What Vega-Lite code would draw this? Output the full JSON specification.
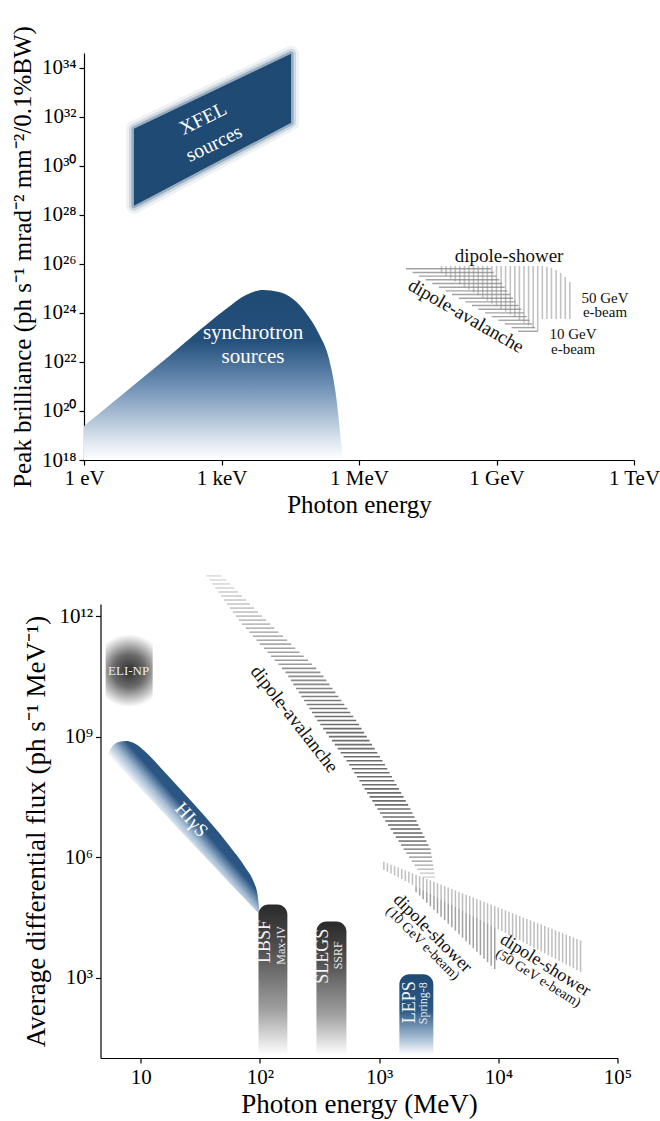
{
"$schema": "https://vega.github.io/schema/vega-lite/v6.json",
"background": "white",
"padding": {"left": 10, "top": 25, "right": 5, "bottom": 5},
"bounds": "flush",
"center": true,
"spacing": 144,
"config": {
  "font": "Liberation Serif",
  "view": {"stroke": null},
  "axis": {"grid": false, "domainColor": "#000", "tickColor": "#000", "labelColor": "#000", "titleColor": "#000", "labelFont": "Liberation Serif", "titleFont": "Liberation Serif", "labelFontSize": 21, "titleFontSize": 25, "titleFontWeight": "normal", "tickSize": 5, "domainWidth": 1.2, "tickWidth": 1.2, "labelFlush": false, "labelOverlap": false},
  "text": {"font": "Liberation Serif", "align": "center", "baseline": "middle"}
},
"datasets": {
  "xfel": [{"E": 12.3, "B": 3.24e31, "B2": 2.33e28}, {"E": 32900, "B": 3.72e34, "B2": 5.69e31}],
  "sync": [
    {"E": 1, "B": 2.44e19}, {"E": 12.3, "B": 1.15e21}, {"E": 68.1, "B": 1.6e22}, {"E": 357, "B": 2.22e23},
    {"E": 1253, "B": 1.46e24}, {"E": 3428, "B": 5.43e24}, {"E": 8054, "B": 8.69e24}, {"E": 18000, "B": 7.19e24},
    {"E": 36300, "B": 3.72e24}, {"E": 69800, "B": 1.0e24}, {"E": 134000, "B": 1.39e23}, {"E": 222000, "B": 1.32e22},
    {"E": 316000, "B": 4.09e20}, {"E": 405000, "B": 5.97e18}, {"E": 448000, "B": 1e18}
  ],
  "topAval": [
    {"B": 6.31e25, "E": 1.06e7, "E2": 7.60e8}, {"B": 4.47e25, "E": 1.47e7, "E2": 8.71e8},
    {"B": 3.16e25, "E": 2.04e7, "E2": 9.98e8}, {"B": 2.24e25, "E": 2.84e7, "E2": 1.15e9},
    {"B": 1.58e25, "E": 3.96e7, "E2": 1.32e9}, {"B": 1.12e25, "E": 5.55e7, "E2": 1.51e9},
    {"B": 7.94e24, "E": 7.69e7, "E2": 1.74e9}, {"B": 5.62e24, "E": 1.07e8, "E2": 2.0e9},
    {"B": 3.98e24, "E": 1.50e8, "E2": 2.30e9}, {"B": 2.82e24, "E": 2.09e8, "E2": 2.64e9},
    {"B": 2.0e24, "E": 2.91e8, "E2": 3.03e9}, {"B": 1.41e24, "E": 4.04e8, "E2": 3.47e9},
    {"B": 1e24, "E": 5.65e8, "E2": 3.99e9}, {"B": 7.08e23, "E": 7.87e8, "E2": 4.59e9},
    {"B": 5.01e23, "E": 1.10e9, "E2": 5.26e9}, {"B": 3.55e23, "E": 1.52e9, "E2": 6.04e9},
    {"B": 2.51e23, "E": 2.13e9, "E2": 6.93e9}, {"B": 1.78e23, "E": 2.96e9, "E2": 7.98e9}
  ],
  "topShower": [
    {"E": 6.31e7, "B": 8.28e25, "B2": 4.17e25}, {"E": 7.94e7, "B": 8.28e25, "B2": 3.21e25},
    {"E": 1e8, "B": 8.28e25, "B2": 2.49e25}, {"E": 1.26e8, "B": 8.28e25, "B2": 1.93e25},
    {"E": 1.58e8, "B": 8.28e25, "B2": 1.48e25}, {"E": 2.0e8, "B": 8.28e25, "B2": 1.15e25},
    {"E": 2.51e8, "B": 8.28e25, "B2": 8.85e24}, {"E": 3.16e8, "B": 8.28e25, "B2": 6.81e24},
    {"E": 3.98e8, "B": 8.28e25, "B2": 5.27e24}, {"E": 5.01e8, "B": 8.28e25, "B2": 4.09e24},
    {"E": 6.31e8, "B": 8.28e25, "B2": 3.15e24}, {"E": 7.94e8, "B": 8.28e25, "B2": 2.44e24},
    {"E": 1e9, "B": 8.28e25, "B2": 1.88e24}, {"E": 1.26e9, "B": 8.28e25, "B2": 1.44e24},
    {"E": 1.58e9, "B": 8.28e25, "B2": 1.12e24}, {"E": 2e9, "B": 8.28e25, "B2": 8.69e23},
    {"E": 2.51e9, "B": 8.28e25, "B2": 6.67e23}, {"E": 3.16e9, "B": 8.28e25, "B2": 5.18e23},
    {"E": 3.98e9, "B": 8.28e25, "B2": 3.98e23}, {"E": 5.01e9, "B": 8.28e25, "B2": 3.06e23},
    {"E": 6.31e9, "B": 8.28e25, "B2": 2.38e23}, {"E": 7.94e9, "B": 8.28e25, "B2": 1.84e23},
    {"E": 1e10, "B": 8.28e25, "B2": 5.69e23}, {"E": 1.26e10, "B": 7.55e25, "B2": 5.69e23},
    {"E": 1.58e10, "B": 6.87e25, "B2": 5.69e23}, {"E": 2e10, "B": 5.69e25, "B2": 5.69e23},
    {"E": 2.51e10, "B": 4.30e25, "B2": 5.69e23}, {"E": 3.16e10, "B": 2.94e25, "B2": 5.69e23},
    {"E": 3.98e10, "B": 1.84e25, "B2": 5.69e23}
  ],
  "botAval": [
    {"F": 1e13, "E": 35.5, "E2": 47.9}, {"F": 7.94e12, "E": 37.7, "E2": 51.9}, {"F": 6.31e12, "E": 39.9, "E2": 56.1},
    {"F": 5.01e12, "E": 42.2, "E2": 60.7}, {"F": 3.98e12, "E": 44.7, "E2": 65.5}, {"F": 3.16e12, "E": 47.3, "E2": 70.8},
    {"F": 2.51e12, "E": 50.0, "E2": 76.6}, {"F": 2.0e12, "E": 53.0, "E2": 82.6}, {"F": 1.58e12, "E": 56.1, "E2": 89.3},
    {"F": 1.26e12, "E": 59.4, "E2": 96.4}, {"F": 1e12, "E": 62.8, "E2": 104}, {"F": 7.94e11, "E": 66.5, "E2": 113},
    {"F": 6.31e11, "E": 70.8, "E2": 122}, {"F": 5.01e11, "E": 76.0, "E2": 132}, {"F": 3.98e11, "E": 81.5, "E2": 143},
    {"F": 3.16e11, "E": 87.3, "E2": 156}, {"F": 2.51e11, "E": 93.8, "E2": 169}, {"F": 2.0e11, "E": 100, "E2": 183},
    {"F": 1.58e11, "E": 108, "E2": 198}, {"F": 1.26e11, "E": 116, "E2": 215}, {"F": 1e11, "E": 124, "E2": 233},
    {"F": 7.94e10, "E": 133, "E2": 253}, {"F": 6.31e10, "E": 143, "E2": 274}, {"F": 5.01e10, "E": 153, "E2": 297},
    {"F": 3.98e10, "E": 164, "E2": 322}, {"F": 3.16e10, "E": 173, "E2": 341}, {"F": 2.51e10, "E": 182, "E2": 361},
    {"F": 2.0e10, "E": 191, "E2": 383}, {"F": 1.58e10, "E": 201, "E2": 406}, {"F": 1.26e10, "E": 212, "E2": 430},
    {"F": 1e10, "E": 223, "E2": 455}, {"F": 7.94e9, "E": 235, "E2": 482}, {"F": 6.31e9, "E": 247, "E2": 511},
    {"F": 5.01e9, "E": 260, "E2": 541}, {"F": 3.98e9, "E": 274, "E2": 573}, {"F": 3.16e9, "E": 288, "E2": 607},
    {"F": 2.51e9, "E": 303, "E2": 643}, {"F": 2.0e9, "E": 321, "E2": 678}, {"F": 1.58e9, "E": 339, "E2": 713},
    {"F": 1.26e9, "E": 359, "E2": 750}, {"F": 1e9, "E": 379, "E2": 789}, {"F": 7.94e8, "E": 402, "E2": 830},
    {"F": 6.31e8, "E": 425, "E2": 873}, {"F": 5.01e8, "E": 450, "E2": 918}, {"F": 3.98e8, "E": 476, "E2": 966},
    {"F": 3.16e8, "E": 504, "E2": 1016}, {"F": 2.51e8, "E": 533, "E2": 1069}, {"F": 2.0e8, "E": 561, "E2": 1122},
    {"F": 1.58e8, "E": 590, "E2": 1172}, {"F": 1.26e8, "E": 619, "E2": 1225}, {"F": 1e8, "E": 652, "E2": 1282},
    {"F": 7.94e7, "E": 684, "E2": 1340}, {"F": 6.31e7, "E": 719, "E2": 1403}, {"F": 5.01e7, "E": 755, "E2": 1466},
    {"F": 3.98e7, "E": 794, "E2": 1531}, {"F": 3.16e7, "E": 834, "E2": 1603}, {"F": 2.51e7, "E": 877, "E2": 1675},
    {"F": 2.0e7, "E": 920, "E2": 1754}, {"F": 1.58e7, "E": 968, "E2": 1832}, {"F": 1.26e7, "E": 1019, "E2": 1905},
    {"F": 1e7, "E": 1072, "E2": 1982}, {"F": 7.94e6, "E": 1127, "E2": 2061}, {"F": 6.31e6, "E": 1186, "E2": 2138},
    {"F": 5.01e6, "E": 1247, "E2": 2223}, {"F": 3.98e6, "E": 1312, "E2": 2312}, {"F": 3.16e6, "E": 1380, "E2": 2404},
    {"F": 2.51e6, "E": 1452, "E2": 2500}, {"F": 2.0e6, "E": 1528, "E2": 2600}, {"F": 1.58e6, "E": 1607, "E2": 2698},
    {"F": 1.26e6, "E": 1694, "E2": 2729}, {"F": 1e6, "E": 1786, "E2": 2767}, {"F": 7.94e5, "E": 1879, "E2": 2805},
    {"F": 6.31e5, "E": 1982, "E2": 2838}, {"F": 5.01e5, "E": 2089, "E2": 2877}, {"F": 3.98e5, "E": 2198, "E2": 2917},
    {"F": 3.16e5, "E": 2317, "E2": 2951}
  ],
  "shower50": [
    {"E": 1096, "F": 7.64e5, "F2": 4.83e5}, {"E": 1175, "F": 7.05e5, "F2": 4.35e5}, {"E": 1259, "F": 6.49e5, "F2": 3.91e5},
    {"E": 1349, "F": 5.98e5, "F2": 3.51e5}, {"E": 1445, "F": 5.51e5, "F2": 3.16e5}, {"E": 1549, "F": 5.08e5, "F2": 2.84e5},
    {"E": 1660, "F": 4.68e5, "F2": 2.55e5}, {"E": 1778, "F": 4.32e5, "F2": 2.30e5}, {"E": 1905, "F": 3.97e5, "F2": 2.06e5},
    {"E": 2042, "F": 3.66e5, "F2": 1.85e5}, {"E": 2188, "F": 3.37e5, "F2": 1.67e5}, {"E": 2344, "F": 3.11e5, "F2": 1.50e5},
    {"E": 2512, "F": 2.86e5, "F2": 1.35e5}, {"E": 2692, "F": 2.64e5, "F2": 1.21e5}, {"E": 2884, "F": 2.43e5, "F2": 1.09e5},
    {"E": 3090, "F": 2.24e5, "F2": 9.80e4}, {"E": 3311, "F": 2.07e5, "F2": 8.81e4}, {"E": 3548, "F": 1.90e5, "F2": 7.93e4},
    {"E": 3802, "F": 1.75e5, "F2": 7.13e4}, {"E": 4074, "F": 1.61e5, "F2": 6.41e4}, {"E": 4365, "F": 1.49e5, "F2": 5.75e4},
    {"E": 4677, "F": 1.37e5, "F2": 5.18e4}, {"E": 5012, "F": 1.26e5, "F2": 4.66e4}, {"E": 5370, "F": 1.16e5, "F2": 4.19e4},
    {"E": 5754, "F": 1.07e5, "F2": 3.77e4}, {"E": 6166, "F": 9.89e4, "F2": 3.39e4}, {"E": 6607, "F": 9.12e4, "F2": 3.04e4},
    {"E": 7079, "F": 8.39e4, "F2": 2.74e4}, {"E": 7586, "F": 7.74e4, "F2": 2.46e4}, {"E": 8128, "F": 7.13e4, "F2": 2.21e4},
    {"E": 8710, "F": 6.58e4, "F2": 1.99e4}, {"E": 9333, "F": 6.05e4, "F2": 1.79e4}, {"E": 10000, "F": 5.58e4, "F2": 1.61e4},
    {"E": 10715, "F": 5.14e4, "F2": 1.45e4}, {"E": 11482, "F": 4.74e4, "F2": 1.30e4}, {"E": 12303, "F": 4.37e4, "F2": 1.17e4},
    {"E": 13183, "F": 4.03e4, "F2": 1.05e4}, {"E": 14125, "F": 3.71e4, "F2": 9.46e3}, {"E": 15136, "F": 3.42e4, "F2": 8.49e3},
    {"E": 16218, "F": 3.15e4, "F2": 7.64e3}, {"E": 17378, "F": 2.90e4, "F2": 6.87e3}, {"E": 18621, "F": 2.67e4, "F2": 6.18e3},
    {"E": 19953, "F": 2.46e4, "F2": 5.56e3}, {"E": 21380, "F": 2.27e4, "F2": 5.00e3}, {"E": 22909, "F": 2.09e4, "F2": 4.49e3},
    {"E": 24547, "F": 1.93e4, "F2": 4.04e3}, {"E": 26303, "F": 1.77e4, "F2": 3.63e3}, {"E": 28184, "F": 1.64e4, "F2": 3.27e3},
    {"E": 30200, "F": 1.51e4, "F2": 2.94e3}, {"E": 32359, "F": 1.39e4, "F2": 2.64e3}, {"E": 34674, "F": 1.28e4, "F2": 2.37e3},
    {"E": 37154, "F": 1.18e4, "F2": 2.13e3}, {"E": 39811, "F": 1.09e4, "F2": 1.92e3}, {"E": 42658, "F": 1.00e4, "F2": 1.73e3},
    {"E": 45709, "F": 9.23e3, "F2": 1.55e3}, {"E": 48978, "F": 8.51e3, "F2": 1.40e3}
  ],
  "shower10": [
    {"E": 2042, "F": 1.85e5, "F2": 1.34e5}, {"E": 2188, "F": 1.67e5, "F2": 1.10e5}, {"E": 2344, "F": 1.50e5, "F2": 8.97e4},
    {"E": 2512, "F": 1.35e5, "F2": 7.35e4}, {"E": 2692, "F": 1.21e5, "F2": 6.00e4}, {"E": 2884, "F": 1.09e5, "F2": 4.91e4},
    {"E": 3090, "F": 9.80e4, "F2": 4.02e4}, {"E": 3311, "F": 8.81e4, "F2": 3.29e4}, {"E": 3548, "F": 7.93e4, "F2": 2.69e4},
    {"E": 3802, "F": 7.13e4, "F2": 2.20e4}, {"E": 4074, "F": 6.41e4, "F2": 1.80e4}, {"E": 4365, "F": 5.75e4, "F2": 1.48e4},
    {"E": 4677, "F": 5.18e4, "F2": 1.21e4}, {"E": 5012, "F": 4.66e4, "F2": 9.89e3}, {"E": 5370, "F": 4.19e4, "F2": 8.09e3},
    {"E": 5754, "F": 3.77e4, "F2": 6.62e3}, {"E": 6166, "F": 3.39e4, "F2": 5.42e3}, {"E": 6607, "F": 3.04e4, "F2": 4.44e3},
    {"E": 7079, "F": 2.74e4, "F2": 3.63e3}, {"E": 7586, "F": 2.46e4, "F2": 2.97e3}, {"E": 8128, "F": 2.21e4, "F2": 2.43e3},
    {"E": 8710, "F": 1.99e4, "F2": 1.99e3}, {"E": 9333, "F": 1.79e4, "F2": 1.63e3}
  ],
  "higs": [
    {"E": 5.28, "F": 3.70e8, "F2": 3.70e8}, {"E": 5.82, "F": 5.85e8, "F2": 2.73e8}, {"E": 6.53, "F": 7.35e8, "F2": 1.91e8},
    {"E": 7.62, "F": 7.78e8, "F2": 1.17e8}, {"E": 9.06, "F": 6.55e8, "F2": 6.82e7}, {"E": 11.0, "F": 4.15e8, "F2": 3.72e7},
    {"E": 15.3, "F": 1.48e8, "F2": 1.33e7}, {"E": 28.8, "F": 1.90e7, "F2": 1.81e6}, {"E": 54.6, "F": 2.04e6, "F2": 2.45e5},
    {"E": 75.7, "F": 5.48e5, "F2": 8.77e4}, {"E": 88.5, "F": 2.47e5, "F2": 5.40e4}, {"E": 95.5, "F": 1.17e5, "F2": 4.25e4},
    {"E": 99.3, "F": 4.45e4, "F2": 3.74e4}
  ]
},
"vconcat": [
  {
    "width": 550,
    "height": 407,
    "encoding": {
      "x": {"field": "E", "type": "quantitative", "scale": {"type": "log", "domain": [1, 1e12], "nice": false},
            "axis": {"title": "Photon energy", "values": [1, 1e3, 1e6, 1e9, 1e12], "labelExpr": "datum.value < 10 ? '1 eV' : datum.value < 1e4 ? '1 keV' : datum.value < 1e7 ? '1 MeV' : datum.value < 1e10 ? '1 GeV' : '1 TeV'", "labelPadding": 2, "titlePadding": 4}},
      "y": {"field": "B", "type": "quantitative", "scale": {"type": "log", "domain": [1e18, 4e34], "nice": false},
            "axis": {"title": "Peak brilliance (ph s⁻¹ mrad⁻² mm⁻²/0.1%BW)", "values": [1e18, 1e20, 1e22, 1e24, 1e26, 1e28, 1e30, 1e32, 1e34], "labelExpr": "datum.value < 1e19 ? '10¹⁸' : datum.value < 1e21 ? '10²⁰' : datum.value < 1e23 ? '10²²' : datum.value < 1e25 ? '10²⁴' : datum.value < 1e27 ? '10²⁶' : datum.value < 1e29 ? '10²⁸' : datum.value < 1e31 ? '10³⁰' : datum.value < 1e33 ? '10³²' : '10³⁴'", "labelPadding": 3, "titlePadding": 6}}
    },
    "layer": [
      {"data": {"name": "xfel"}, "mark": {"type": "area", "fillOpacity": 0, "stroke": "#1f4a73", "strokeWidth": 16, "strokeOpacity": 0.07, "strokeJoin": "round"}, "encoding": {"y2": {"field": "B2"}}},
      {"data": {"name": "xfel"}, "mark": {"type": "area", "fillOpacity": 0, "stroke": "#1f4a73", "strokeWidth": 10, "strokeOpacity": 0.15, "strokeJoin": "round"}, "encoding": {"y2": {"field": "B2"}}},
      {"data": {"name": "xfel"}, "mark": {"type": "area", "fill": "#1f4a73", "stroke": "#1f4a73", "strokeWidth": 5, "strokeOpacity": 0.3, "strokeJoin": "round"}, "encoding": {"y2": {"field": "B2"}}},
      {"data": {"name": "sync"}, "mark": {"type": "area", "interpolate": "monotone", "fill": {"gradient": "linear", "x1": 0, "y1": 0, "x2": 0, "y2": 1, "stops": [{"offset": 0, "color": "#1f4a73"}, {"offset": 0.3, "color": "#24507c"}, {"offset": 0.55, "color": "#6a8db2"}, {"offset": 0.75, "color": "#adc1d6"}, {"offset": 0.9, "color": "#e1e9f1"}, {"offset": 1, "color": "#ffffff"}]}}, "encoding": {"y2": {"datum": 1e18}}},
      {"data": {"name": "topAval"}, "mark": {"type": "rule", "color": "#666", "strokeWidth": 1.4, "opacity": 0.6}, "encoding": {"x2": {"field": "E2"}}},
      {"data": {"name": "topShower"}, "mark": {"type": "rule", "color": "#888", "strokeWidth": 1.6, "opacity": 0.5}, "encoding": {"y2": {"field": "B2"}}},
      {"data": {"values": [{"label": "XFEL", "E": 395, "B": 8.28e31}, {"label": "sources", "E": 687, "B": 7.91e30}]}, "mark": {"type": "text", "color": "#fff", "fontSize": 20, "angle": -26}, "encoding": {"text": {"field": "label"}}},
      {"data": {"values": [{"label": "synchrotron", "E": 4875, "B": 1.53e23}, {"label": "sources", "E": 4875, "B": 1.6e22}]}, "mark": {"type": "text", "color": "#fff", "fontSize": 21}, "encoding": {"text": {"field": "label"}}},
      {"data": {"values": [{"label": "dipole-shower", "E": 1.88e9, "B": 2.12e26}]}, "mark": {"type": "text", "color": "#111", "fontSize": 19}, "encoding": {"text": {"field": "label"}}},
      {"data": {"values": [{"label": "dipole-avalanche", "E": 2.16e8, "B": 7.55e23}]}, "mark": {"type": "text", "color": "#111", "fontSize": 19, "angle": 30}, "encoding": {"text": {"field": "label"}}},
      {"data": {"values": [{"label": "50 GeV", "E": 2.33e11, "B": 4.09e24}, {"label": "e-beam", "E": 2.33e11, "B": 1.1e24}, {"label": "10 GeV", "E": 4.68e10, "B": 1.39e23}, {"label": "e-beam", "E": 4.68e10, "B": 3.4e22}]}, "mark": {"type": "text", "color": "#111", "fontSize": 15}, "encoding": {"text": {"field": "label"}}}
    ]
  },
  {
    "width": 517,
    "height": 454,
    "encoding": {
      "x": {"field": "E", "type": "quantitative", "scale": {"type": "log", "domain": [4.6, 1e5], "nice": false},
            "axis": {"title": "Photon energy (MeV)", "titleFontSize": 27, "values": [10, 100, 1000, 10000, 100000], "labelExpr": "datum.value < 50 ? '10' : datum.value < 500 ? '10²' : datum.value < 5000 ? '10³' : datum.value < 50000 ? '10⁴' : '10⁵'", "labelPadding": 3, "titlePadding": 4}},
      "y": {"field": "F", "type": "quantitative", "scale": {"type": "log", "domain": [10, 2e12], "nice": false},
            "axis": {"title": "Average differential flux (ph s⁻¹ MeV⁻¹)", "titleFontSize": 27, "values": [1e3, 1e6, 1e9, 1e12], "labelExpr": "datum.value < 1e4 ? '10³' : datum.value < 1e7 ? '10⁶' : datum.value < 1e10 ? '10⁹' : '10¹²'", "labelPadding": 3, "titlePadding": 8}}
    },
    "layer": [
      {"data": {"name": "botAval"}, "mark": {"type": "rule", "color": "#555", "strokeWidth": 1.6}, "encoding": {"x2": {"field": "E2"}, "opacity": {"field": "F", "type": "quantitative", "scale": {"type": "log", "domain": [3e5, 3e6, 3e9, 1e13], "range": [0.2, 0.85, 0.85, 0.2]}, "legend": null}}},
      {"data": {"name": "shower50"}, "mark": {"type": "rule", "color": "#888", "strokeWidth": 1.5, "opacity": 0.55}, "encoding": {"y2": {"field": "F2"}}},
      {"data": {"name": "shower10"}, "mark": {"type": "rule", "color": "#777", "strokeWidth": 1.5, "opacity": 0.7}, "encoding": {"y2": {"field": "F2"}}},
      {"data": {"name": "higs"}, "mark": {"type": "area", "interpolate": "monotone", "fill": {"gradient": "linear", "x1": 0, "y1": 1, "x2": 1, "y2": 0, "stops": [{"offset": 0, "color": "#ffffff"}, {"offset": 0.46, "color": "#ffffff"}, {"offset": 0.51, "color": "#a3bbd3"}, {"offset": 0.56, "color": "#2b5683"}, {"offset": 1, "color": "#1f4a74"}]}}, "encoding": {"y2": {"field": "F2"}}},
      {"data": {"values": [{"name": "ELI-NP", "E": 5.08, "E2": 12.6, "F": 3.52e11, "F2": 5.42e9}]}, "mark": {"type": "rect", "cornerRadius": 8, "fill": {"gradient": "radial", "stops": [{"offset": 0, "color": "#2e2e2e"}, {"offset": 0.45, "color": "#6a6a6a"}, {"offset": 0.85, "color": "#d8d8d8"}, {"offset": 1, "color": "#ffffff"}]}}, "encoding": {"x2": {"field": "E2"}, "y2": {"field": "F2"}}},
      {"data": {"values": [{"name": "LBSF", "E": 97.3, "E2": 170, "F": 6.62e4, "F2": 12}, {"name": "SLEGS", "E": 298, "E2": 532, "F": 2.51e4, "F2": 12}]}, "mark": {"type": "rect", "cornerRadiusTopLeft": 10, "cornerRadiusTopRight": 10, "fill": {"gradient": "linear", "x1": 0, "y1": 0, "x2": 0, "y2": 1, "stops": [{"offset": 0, "color": "#2a2a2a"}, {"offset": 0.3, "color": "#505050"}, {"offset": 0.7, "color": "#a0a0a0"}, {"offset": 1, "color": "#ffffff"}]}}, "encoding": {"x2": {"field": "E2"}, "y2": {"field": "F2"}}},
      {"data": {"values": [{"name": "LEPS", "E": 1479, "E2": 2851, "F": 1213, "F2": 12}]}, "mark": {"type": "rect", "cornerRadiusTopLeft": 10, "cornerRadiusTopRight": 10, "fill": {"gradient": "linear", "x1": 0, "y1": 0, "x2": 0, "y2": 1, "stops": [{"offset": 0, "color": "#1f4a74"}, {"offset": 0.45, "color": "#2c5885"}, {"offset": 0.8, "color": "#a9bfd5"}, {"offset": 1, "color": "#ffffff"}]}}, "encoding": {"x2": {"field": "E2"}, "y2": {"field": "F2"}}},
      {"data": {"values": [{"label": "ELI-NP", "E": 7.92, "F": 4.25e10}]}, "mark": {"type": "text", "color": "#eee", "fontSize": 13}, "encoding": {"text": {"field": "label"}}},
      {"data": {"values": [{"label": "HIγS", "E": 26.7, "F": 8.53e6}]}, "mark": {"type": "text", "color": "#fff", "fontSize": 19, "angle": 48}, "encoding": {"text": {"field": "label"}}},
      {"data": {"values": [{"label": "dipole-avalanche", "E": 195, "F": 2.74e9}]}, "mark": {"type": "text", "color": "#111", "fontSize": 19, "angle": 52}, "encoding": {"text": {"field": "label"}}},
      {"data": {"values": [{"label": "LBSF", "E": 111, "F": 8.0e3}, {"label": "SLEGS", "E": 341, "F": 3.4e3}, {"label": "LEPS", "E": 1828, "F": 245}]}, "mark": {"type": "text", "color": "#f2f2f2", "fontSize": 18, "angle": -90}, "encoding": {"text": {"field": "label"}}},
      {"data": {"values": [{"label": "Max-IV", "E": 149, "F": 6.37e3}, {"label": "SSRF", "E": 456, "F": 3.6e3}, {"label": "Spring-8", "E": 2350, "F": 232}]}, "mark": {"type": "text", "color": "#e8e8e8", "fontSize": 12, "angle": -90}, "encoding": {"text": {"field": "label"}}},
      {"data": {"values": [{"label": "dipole-shower", "E": 2800, "F": 1.26e4}]}, "mark": {"type": "text", "color": "#111", "fontSize": 18, "angle": 45}, "encoding": {"text": {"field": "label"}}},
      {"data": {"values": [{"label": "(10 GeV e-beam)", "E": 2312, "F": 7.14e3}]}, "mark": {"type": "text", "color": "#111", "fontSize": 14, "angle": 45}, "encoding": {"text": {"field": "label"}}},
      {"data": {"values": [{"label": "dipole-shower", "E": 24800, "F": 2030}]}, "mark": {"type": "text", "color": "#111", "fontSize": 18, "angle": 32}, "encoding": {"text": {"field": "label"}}},
      {"data": {"values": [{"label": "(50 GeV e-beam)", "E": 21600, "F": 966}]}, "mark": {"type": "text", "color": "#111", "fontSize": 14, "angle": 32}, "encoding": {"text": {"field": "label"}}}
    ]
  }
]
}
